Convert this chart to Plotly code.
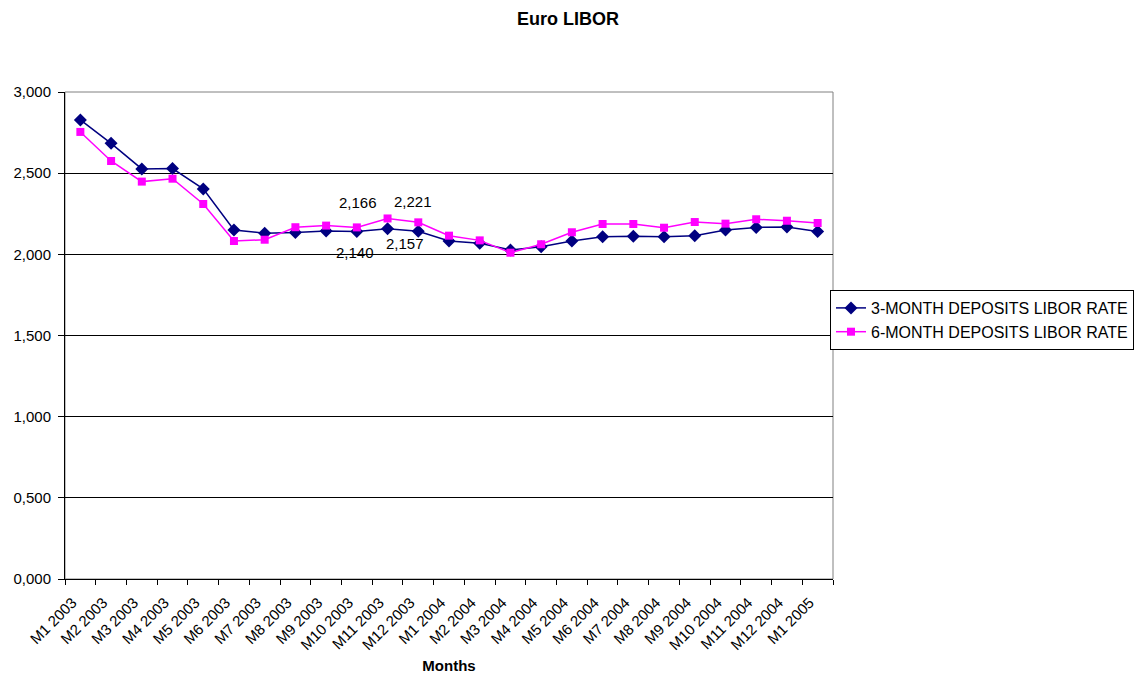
import plotly.graph_objects as go

months = ["M1 2003", "M2 2003", "M3 2003", "M4 2003", "M5 2003", "M6 2003", "M7 2003",
          "M8 2003", "M9 2003", "M10 2003", "M11 2003", "M12 2003", "M1 2004", "M2 2004",
          "M3 2004", "M4 2004", "M5 2004", "M6 2004", "M7 2004", "M8 2004", "M9 2004",
          "M10 2004", "M11 2004", "M12 2004", "M1 2005"]

libor_3m = [2.828, 2.684, 2.526, 2.528, 2.403, 2.150, 2.130, 2.134, 2.143, 2.140, 2.157,
            2.142, 2.082, 2.068, 2.027, 2.047, 2.082, 2.109, 2.111, 2.108, 2.115, 2.150,
            2.166, 2.168, 2.140]
libor_6m = [2.754, 2.575, 2.448, 2.466, 2.310, 2.082, 2.090, 2.167, 2.177, 2.166, 2.221,
            2.197, 2.115, 2.086, 2.010, 2.062, 2.136, 2.187, 2.187, 2.164, 2.199, 2.189,
            2.216, 2.207, 2.193]

y_ticks = [0, 0.5, 1.0, 1.5, 2.0, 2.5, 3.0]

FONT = "Liberation Sans, Arial, sans-serif"

fig = go.Figure()
fig.add_trace(go.Scatter(
    x=months, y=libor_3m, mode="lines+markers", name="3-MONTH DEPOSITS LIBOR RATE",
    line=dict(color="#000080", width=1.5),
    marker=dict(symbol="diamond", size=10, color="#000080"),
))
fig.add_trace(go.Scatter(
    x=months, y=libor_6m, mode="lines+markers", name="6-MONTH DEPOSITS LIBOR RATE",
    line=dict(color="#FF00FF", width=1.5),
    marker=dict(symbol="square", size=8, color="#FF00FF"),
))

def fmt(v):
    return f"{v:.3f}".replace(".", ",")

labels = [
    (months[9], libor_6m[9], 1, 25),
    (months[10], libor_6m[10], 25, 17),
    (months[9], libor_3m[9], -2, -21),
    (months[10], libor_3m[10], 17, -15),
]
annotations = []
for xc, yv, xs, ys in labels:
    annotations.append(dict(x=xc, y=yv, xref="x", yref="y", text=fmt(yv), showarrow=False,
                            xshift=xs, yshift=ys, font=dict(family=FONT, size=15, color="black")))

fig.update_layout(
    width=1136, height=677,
    paper_bgcolor="white", plot_bgcolor="white",
    margin=dict(l=65, r=303, t=92, b=98, autoexpand=False),
    separators=",.",
    title=dict(text="<b>Euro LIBOR</b>", x=0.5, xref="container", xanchor="center",
               y=1 - 18.5 / 677, yanchor="middle", yref="container",
               font=dict(family=FONT, size=18, color="black")),
    font=dict(family=FONT, size=15, color="black"),
    showlegend=True,
    legend=dict(xref="container", yref="container",
                x=830 / 1136, xanchor="left", y=1 - 290 / 677, yanchor="top",
                bordercolor="black", borderwidth=1, bgcolor="white",
                font=dict(family=FONT, size=16, color="black"),
                tracegroupgap=0, itemwidth=30),
    annotations=annotations,
    shapes=[dict(type="rect", xref="paper", yref="paper", x0=0, x1=1, y0=0, y1=1,
                 line=dict(color="#808080", width=1), layer="below")],
)

fig.update_xaxes(
    type="category", range=[-0.5, len(months) - 0.5], tickangle=-45, tickson="boundaries",
    ticks="outside", ticklen=5, tickcolor="black",
    showline=True, linecolor="black", linewidth=1,
    showgrid=False, zeroline=False, automargin=False,
    ticklabelstandoff=8, ticklabelshift=-8,
    tickfont=dict(family=FONT, size=15, color="black"),
    title=dict(text="<b>Months</b>", font=dict(family=FONT, size=15, color="black"), standoff=8),
)
fig.update_yaxes(
    range=[0, 3], tickvals=y_ticks, tickformat=".3f",
    ticks="outside", ticklen=6, tickcolor="black",
    showline=True, linecolor="black", linewidth=1,
    showgrid=True, gridcolor="black", gridwidth=1, zeroline=False, automargin=False,
    ticklabelstandoff=4,
    tickfont=dict(family=FONT, size=15, color="black"),
)

fig.write_html("out.html")
